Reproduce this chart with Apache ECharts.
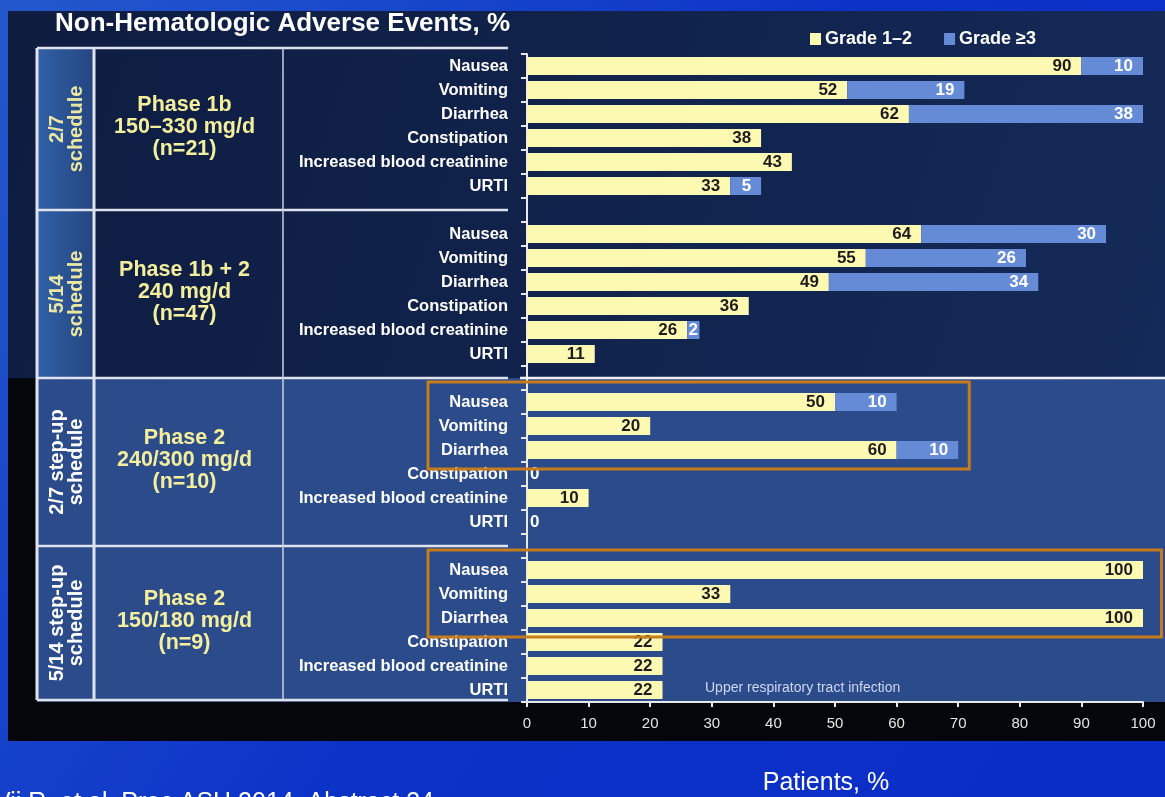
<!DOCTYPE html>
<html>
<head>
<meta charset="utf-8">
<script src="https://cdn.jsdelivr.net/npm/echarts@6/dist/echarts.min.js"></script>
<style>
  html, body { margin: 0; padding: 0; background: #0b2ec4; }
  #chart { width: 1165px; height: 797px; }
</style>
</head>
<body>
<div id="chart"></div>
<script>
// Adverse event names, repeated for each cohort block
const events = ['Nausea', 'Vomiting', 'Diarrhea', 'Constipation', 'Increased blood creatinine', 'URTI'];

// Cohort descriptions (left table)
const cohortSchedules = ['2/7\nschedule', '5/14\nschedule', '2/7 step-up\nschedule', '5/14 step-up\nschedule'];
const cohortDoses = ['Phase 1b\n150–330 mg/d\n(n=21)', 'Phase 1b + 2\n240 mg/d\n(n=47)', 'Phase 2\n240/300 mg/d\n(n=10)', 'Phase 2\n150/180 mg/d\n(n=9)'];

// Patients, % with Grade 1–2 events, per cohort (order of `events`)
const grade12Cohort1 = [90, 52, 62, 38, 43, 33];
const grade12Cohort2 = [64, 55, 49, 36, 26, 11];
const grade12Cohort3 = [50, 20, 60, 0, 10, 0];
const grade12Cohort4 = [100, 33, 100, 22, 22, 22];

// Patients, % with Grade >=3 events (null = none reported)
const grade3Cohort1 = [10, 19, 38, null, null, 5];
const grade3Cohort2 = [30, 26, 34, null, 2, null];
const grade3Cohort3 = [10, null, 10, null, null, null];
const grade3Cohort4 = [null, null, null, null, null, null];

const seriesNames = ['Grade 1–2', 'Grade ≥3'];
const xTickValues = [0, 10, 20, 30, 40, 50, 60, 70, 80, 90, 100];

const grade12 = [grade12Cohort1, grade12Cohort2, grade12Cohort3, grade12Cohort4];
const grade3 = [grade3Cohort1, grade3Cohort2, grade3Cohort3, grade3Cohort4];

// Build the category list: six events per cohort, one empty slot between cohorts
const categories = [];
const g12Data = [];
const g3Data = [];
grade12.forEach((block, b) => {
  if (b > 0) { categories.push(''); g12Data.push('-'); g3Data.push('-'); }
  block.forEach((v, i) => {
    categories.push(events[i]);
    if (v === 0) {
      g12Data.push({ value: 0, label: { position: 'right', distance: 3, color: '#ffffff' } });
    } else {
      g12Data.push(v);
    }
    const w = grade3[b][i];
    if (w == null) {
      g3Data.push('-');
    } else if (w <= 3) {
      g3Data.push({ value: w, label: { position: 'inside' } });
    } else {
      g3Data.push(w);
    }
  });
});

const FONT = '"Liberation Sans", Arial, sans-serif';
const chart = echarts.init(document.getElementById('chart'), null, { renderer: 'canvas' });

const option = {
  animation: false,
  backgroundColor: 'transparent',
  textStyle: { fontFamily: FONT },
  legend: {
    data: seriesNames,
    left: 805,
    top: 25,
    icon: 'rect',
    itemWidth: 11,
    itemHeight: 12,
    itemGap: 32,
    textStyle: { color: '#ffffff', fontWeight: 'bold', fontSize: 18, fontFamily: FONT, padding: [0, 0, 0, -1] }
  },
  grid: {
    left: 527, top: 54, width: 616, height: 648,
    containLabel: false, outerBoundsMode: 'none'
  },
  xAxis: {
    type: 'value',
    min: xTickValues[0],
    max: xTickValues[xTickValues.length - 1],
    interval: xTickValues[1] - xTickValues[0],
    axisLine: { show: true, lineStyle: { color: '#e8e8e8', width: 2 } },
    axisTick: { show: true, length: 5, lineStyle: { color: '#e8e8e8', width: 2 } },
    axisLabel: { color: '#e6e6e6', fontSize: 15, margin: 14, fontFamily: FONT },
    splitLine: { show: false }
  },
  yAxis: {
    type: 'category',
    inverse: true,
    data: categories,
    axisLine: { show: true, lineStyle: { color: '#e8e8e8', width: 2 } },
    axisTick: { show: true, length: 6, interval: 0, lineStyle: { color: '#e8e8e8', width: 2 } },
    axisLabel: { interval: 0, color: '#ffffff', fontWeight: 'bold', fontSize: 16.5, margin: 19, fontFamily: FONT },
    splitLine: { show: false }
  },
  series: [
    {
      name: seriesNames[0],
      type: 'bar',
      stack: 'total',
      barWidth: 18,
      data: g12Data,
      itemStyle: { color: '#fdf9b3' },
      label: {
        show: true, position: 'insideRight', distance: 10,
        color: '#1c1c1c', fontWeight: 'bold', fontSize: 17, fontFamily: FONT
      }
    },
    {
      name: seriesNames[1],
      type: 'bar',
      stack: 'total',
      barWidth: 18,
      data: g3Data,
      itemStyle: { color: '#658bd7' },
      label: {
        show: true, position: 'insideRight', distance: 10,
        color: '#ffffff', fontWeight: 'bold', fontSize: 17, fontFamily: FONT
      }
    }
  ]
};
chart.setOption(option);

// ---- Slide frame, cohort table and highlight boxes ----
const yOf = (idx) => chart.convertToPixel({ yAxisIndex: 0 }, idx);
const xOf = (v) => chart.convertToPixel({ xAxisIndex: 0 }, v);
const blockStart = [0, 7, 14, 21];

const rowTop = [48, yOf(6), yOf(13), yOf(20)];
const rowBottom = [yOf(6), yOf(13), yOf(20), 700];

const LINE = '#dfe3ee';
const TL = 37, TC1 = 94, TC2 = 283, TR = 508;

const g = [];
// page background
g.push({ type: 'rect', z: -30, shape: { x: 0, y: 0, width: 1165, height: 797 },
  style: { fill: new echarts.graphic.LinearGradient(0, 0, 1, 1, [
    { offset: 0, color: '#2358cc' }, { offset: 0.5, color: '#0c33c8' }, { offset: 1, color: '#0a2cc6' }]) } });
// dark upper panel
g.push({ type: 'rect', z: -29, shape: { x: 8, y: 11, width: 1157, height: rowTop[2] - 11 },
  style: { fill: new echarts.graphic.LinearGradient(0, 0, 1, 1, [
    { offset: 0, color: '#0e1c40' }, { offset: 1, color: '#142a58' }]) } });
// black lower frame
g.push({ type: 'rect', z: -29, shape: { x: 8, y: rowTop[2], width: 1157, height: 741 - rowTop[2] },
  style: { fill: '#04060c' } });
// medium blue lower section
g.push({ type: 'rect', z: -28, shape: { x: TL, y: rowTop[2], width: 1165 - TL, height: 702 - rowTop[2] },
  style: { fill: '#2b4b8a' } });
// first table column for the two upper cohorts
g.push({ type: 'rect', z: -27, shape: { x: TL, y: rowTop[0], width: TC1 - TL, height: rowTop[2] - rowTop[0] },
  style: { fill: new echarts.graphic.LinearGradient(0, 0, 1, 0, [
    { offset: 0, color: '#3161a8' }, { offset: 1, color: '#24457f' }]) } });

// table lines
[rowTop[0], rowTop[1], rowTop[2], rowTop[3], rowBottom[3]].forEach((y) => {
  g.push({ type: 'line', z: 5, shape: { x1: TL, y1: y, x2: TR, y2: y }, style: { stroke: LINE, lineWidth: 2.5 } });
});
[TL, TC1].forEach((x) => {
  g.push({ type: 'line', z: 5, shape: { x1: x, y1: rowTop[0], x2: x, y2: rowBottom[3] }, style: { stroke: LINE, lineWidth: 3 } });
});
g.push({ type: 'line', z: 5, shape: { x1: TC2, y1: rowTop[0], x2: TC2, y2: rowBottom[3] }, style: { stroke: '#c9cfdd', lineWidth: 1.5 } });
// section divider across the plot
g.push({ type: 'line', z: 5, shape: { x1: 520, y1: rowTop[2], x2: 1165, y2: rowTop[2] }, style: { stroke: '#f0f0f0', lineWidth: 2.5 } });

// cohort texts
for (let b = 0; b < 4; b++) {
  const cy = (rowTop[b] + rowBottom[b]) / 2;
  g.push({ type: 'text', z: 6, x: (TL + TC1) / 2 + 1, y: cy, rotation: Math.PI / 2,
    style: { text: cohortSchedules[b], align: 'center', verticalAlign: 'middle',
      fill: b < 2 ? '#ebe7a2' : '#ffffff', font: 'bold 20px ' + FONT, lineHeight: 19 } });
  g.push({ type: 'text', z: 6, x: (TC1 + TC2) / 2 - 4, y: cy - 2,
    style: { text: cohortDoses[b], align: 'center', verticalAlign: 'middle',
      fill: '#f3ef9c', font: 'bold 21.5px ' + FONT, lineHeight: 22 } });
}

// title
g.push({ type: 'text', z: 6, x: 55, y: 24,
  style: { text: 'Non-Hematologic Adverse Events, %', align: 'left', verticalAlign: 'middle',
    fill: '#ffffff', font: 'bold 26px ' + FONT } });

// highlight boxes around nausea / vomiting / diarrhea of the step-up cohorts
const ORANGE = '#c67c1c';
[[2, 71.8], [3, 103]].forEach(([b, right]) => {
  const top = yOf(blockStart[b]) - 20;
  const bottom = yOf(blockStart[b] + 2) + 19;
  const x2 = Math.min(xOf(right), 1162);
  g.push({ type: 'rect', z: 20, shape: { x: 428, y: top, width: x2 - 428, height: bottom - top },
    style: { fill: null, stroke: ORANGE, lineWidth: 3 } });
});

// footnote for URTI
g.push({ type: 'text', z: 6, x: 705, y: yOf(26) - 2,
  style: { text: 'Upper respiratory tract infection', align: 'left', verticalAlign: 'middle',
    fill: '#cdd7f2', font: '14px ' + FONT } });

// axis title
g.push({ type: 'text', z: 6, x: 826, y: 783,
  style: { text: 'Patients, %', align: 'center', verticalAlign: 'middle', fill: '#ffffff', font: '25px ' + FONT } });

// reference line at the page foot (cut off by the page edge)
g.push({ type: 'text', z: 6, x: -6, y: 791,
  style: { text: 'Vij R, et al. Proc ASH 2014. Abstract 34', align: 'left', verticalAlign: 'top', fill: '#ffffff', font: '25px ' + FONT } });

chart.setOption({ graphic: { elements: g } });
</script>
</body>
</html>
